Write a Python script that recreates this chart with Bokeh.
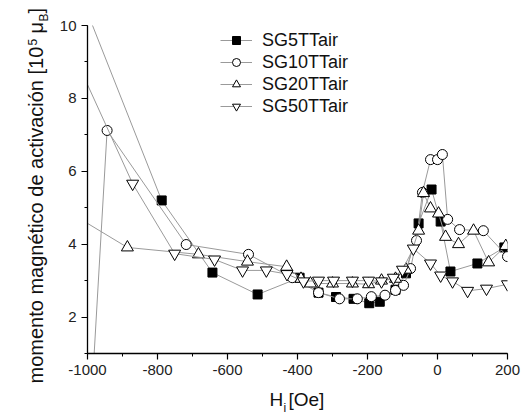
from bokeh.plotting import figure
from bokeh.models import Range1d, SingleIntervalTicker, Legend, LegendItem, Label
from bokeh.embed import file_html
from bokeh.resources import INLINE

# Internal field H_i [Oe] and activation magnetic moment [10^5 muB] for each sample
h_sg5 = [-1000, -788, -643, -514, -394, -340, -290, -240, -195, -165, -120, -90, -54, -17, 9, 37, 114, 191]
m_sg5 = [10.35, 5.2, 3.22, 2.62, 3.08, 2.67, 2.55, 2.5, 2.38, 2.42, 2.75, 3.2, 4.57, 5.5, 4.62, 3.25, 3.47, 3.91]

h_sg10 = [-990, -944, -718, -540, -415, -340, -280, -229, -189, -150, -120, -97, -77, -60, -43, -20, 0, 14, 29, 63, 131, 200]
m_sg10 = [-0.5, 7.12, 3.99, 3.72, 3.08, 2.67, 2.5, 2.5, 2.56, 2.6, 2.73, 2.87, 3.33, 4.1, 5.42, 6.32, 6.32, 6.46, 4.68, 4.4, 4.37, 3.66]

h_sg20 = [-1050, -886, -683, -543, -431, -390, -363, -300, -243, -197, -160, -120, -90, -54, -40, -20, 3, 23, 60, 103, 146, 195]
m_sg20 = [4.86, 3.91, 3.72, 3.52, 3.38, 3.05, 2.92, 2.92, 2.92, 2.9, 3.0, 3.05, 3.3, 4.37, 5.4, 4.98, 4.84, 4.2, 4.0, 4.37, 3.5, 3.95]

h_sg50 = [-1040, -871, -751, -637, -557, -489, -430, -383, -340, -297, -243, -197, -160, -126, -100, -69, -20, 9, 43, 86, 140, 200]
m_sg50 = [9.22, 5.66, 3.74, 3.58, 3.28, 3.28, 3.18, 2.98, 3.0, 3.0, 3.0, 3.0, 2.98, 3.08, 3.3, 3.88, 3.47, 3.14, 2.98, 2.72, 2.78, 2.9]

series_names = ["SG5TTair", "SG10TTair", "SG20TTair", "SG50TTair"]

x_ticks = [-1000, -800, -600, -400, -200, 0, 200]
y_ticks = [2, 4, 6, 8, 10]

X0, X1 = -1000, 200
Y0, Y1 = 1, 10

FONT = "Liberation Sans"
TXT = "#111111"

# canvas layout (pixels)
W, H = 528, 418
LEFT, RIGHT, TOP, BOTTOM = 87, 21, 25, 65
FW, FH = W - LEFT - RIGHT, H - TOP - BOTTOM

p = figure(width=W, height=H,
           x_range=Range1d(X0, X1), y_range=Range1d(Y0, Y1),
           min_border_left=LEFT, min_border_right=RIGHT,
           min_border_top=TOP, min_border_bottom=BOTTOM,
           output_backend="svg", toolbar_location=None)

p.xgrid.visible = False
p.ygrid.visible = False
p.outline_line_color = None
p.background_fill_color = "white"
p.border_fill_color = "white"

p.xaxis.ticker = SingleIntervalTicker(interval=200, num_minor_ticks=2)
p.yaxis.ticker = SingleIntervalTicker(interval=2, num_minor_ticks=2)
p.xaxis.major_label_overrides = {t: str(t) for t in x_ticks}
p.yaxis.major_label_overrides = {t: str(t) for t in y_ticks}
for ax in (p.xaxis[0], p.yaxis[0]):
    ax.axis_line_color = "black"
    ax.axis_line_width = 1.3
    ax.major_tick_line_color = "black"
    ax.minor_tick_line_color = "black"
    ax.major_tick_line_width = 1.2
    ax.minor_tick_line_width = 1.0
    ax.major_tick_in = 0
    ax.major_tick_out = 6
    ax.minor_tick_in = 0
    ax.minor_tick_out = 3
    ax.major_label_text_font = FONT
    ax.major_label_text_font_size = "15px"
    ax.major_label_text_color = "#222222"
p.xaxis.major_label_standoff = 5
p.yaxis.major_label_standoff = 5

LINE = "#9a9a9a"
specs = [
    (h_sg5, m_sg5, dict(marker="square", size=9, fill_color="black", line_color="black")),
    (h_sg10, m_sg10, dict(marker="circle", size=10, fill_color="white", line_color="black")),
    (h_sg20, m_sg20, dict(marker="triangle", size=12, fill_color="white", line_color="black")),
    (h_sg50, m_sg50, dict(marker="inverted_triangle", size=12, fill_color="white", line_color="black")),
]

items = []
for name, (hx, my, mk) in zip(series_names, specs):
    lr = p.line(hx, my, line_color=LINE, line_width=1)
    sr = p.scatter(hx, my, line_width=1, **mk)
    items.append(LegendItem(label=name, renderers=[lr, sr]))

legend = Legend(items=items, location=(133, 236),
                glyph_width=32, glyph_height=20, label_height=22,
                label_standoff=10, spacing=0, padding=0, margin=0,
                border_line_color=None, background_fill_alpha=0,
                label_text_font=FONT, label_text_font_size="18px",
                label_text_color=TXT)
p.add_layout(legend, "center")


def to_dx(px):
    """canvas x pixel -> data x"""
    return X0 + (px - LEFT) * (X1 - X0) / FW


def to_dy(py):
    """canvas y pixel (from top) -> data y"""
    return Y1 - (py - TOP) * (Y1 - Y0) / FH


def put(side, px, py, text, size, angle=0.0):
    # axis-title pieces live in the side panels so they are not clipped to the frame
    lab = Label(x=to_dx(px), y=to_dy(py), x_units="data", y_units="data",
                text=text, angle=angle, text_baseline="alphabetic", text_align="left",
                text_font=FONT, text_font_size=size, text_color=TXT)
    p.add_layout(lab, side)


ROT = 1.5707963

# x-axis title: H_i [Oe]
put("below", 269, 399, "H [Oe]", "19px")
put("right", 283, 407, "i", "12px")

# y-axis title: momento magnético de activación [10^5 μ_B]
put("left", 35, 383, "momento magnético de activación [10", "20px", ROT)
put("left", 32, 45, "5", "12px", ROT)
put("above", 35, 33, "μ", "20px", ROT)
put("right", 43, 21, "B", "12px", ROT)
put("above", 35, 13, "]", "20px", ROT)

open("out.html", "w").write(file_html(p, INLINE))
